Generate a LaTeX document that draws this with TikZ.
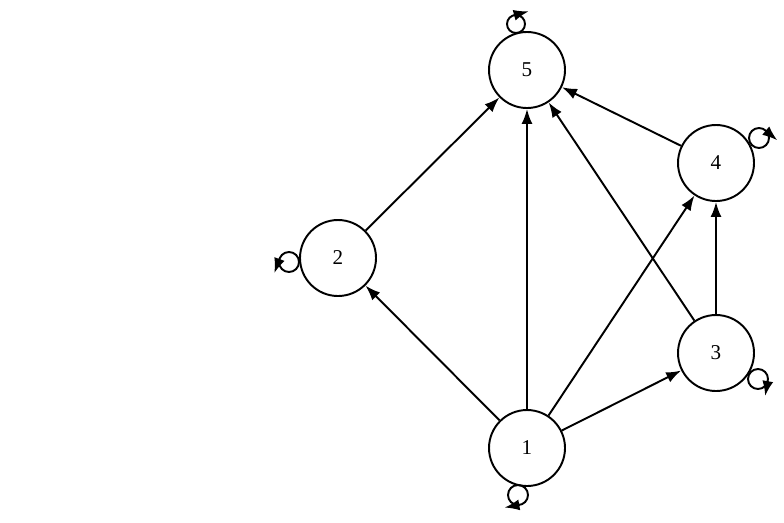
\documentclass[tikz,border=0pt]{standalone}
\usepackage{fontspec}
\setmainfont{Liberation Serif}
\usetikzlibrary{arrows.meta}
\tikzstyle{vertex}=[circle, draw, line width=1.1pt, minimum size=1.52cm, inner sep=0pt, font=\fontsize{12}{14}\selectfont]
\tikzstyle{arc}=[line width=1.1pt, -{Latex[length=3mm, width=2.2mm]}]
\tikzstyle{ring}=[line width=1.1pt]

\begin{document}
\begin{tikzpicture}
				\useasboundingbox (0,0) rectangle (15.68,-10.44);

				\node[vertex] (v1) at (10.54,-8.96) {1};
				\node[vertex] (v2) at (6.76,-5.16) {2};
				\node[vertex] (v3) at (14.32,-7.06) {3};
				\node[vertex] (v4) at (14.32,-3.26) {4};
				\node[vertex] (v5) at (10.54,-1.40) {5};

				\coordinate (l1) at (10.36,-9.90);
				\coordinate (l2) at (5.78,-5.24);
				\coordinate (l3) at (15.16,-7.58);
				\coordinate (l4) at (15.18,-2.76);
				\coordinate (l5) at (10.32,-0.48);

				\draw[arc] (v1) -- (v2);
				\draw[arc] (v1) -- (v5);
				\draw[arc] (v1) -- (v4);
				\draw[arc] (v1) -- (v3);
				\draw[arc] (v2) -- (v5);
				\draw[arc] (v3) -- (v5);
				\draw[arc] (v3) -- (v4);
				\draw[arc] (v4) -- (v5);

				% self loops
				\draw[ring] (l1) circle [radius=0.2];
				\draw[ring] (l2) circle [radius=0.2];
				\draw[ring] (l3) circle [radius=0.2];
				\draw[ring] (l4) circle [radius=0.2];
				\draw[ring] (l5) circle [radius=0.18];

				\draw[arc] ([shift={(-80:0.2)}]l1) -- +(190:0.31);
				\draw[arc] ([shift={(160:0.2)}]l2) -- +(250:0.31);
				\draw[arc] ([shift={(-10:0.2)}]l3) -- +(-100:0.31);
				\draw[arc] ([shift={(50:0.2)}]l4) -- +(-40:0.31);
				\draw[arc] ([shift={(105:0.18)}]l5) -- +(15:0.31);
			\end{tikzpicture}
\end{document}
